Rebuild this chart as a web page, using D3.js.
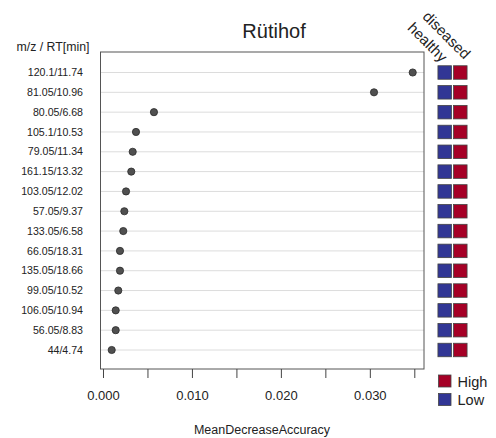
<!DOCTYPE html>
<html><head><meta charset="utf-8">
<script src="https://cdn.jsdelivr.net/npm/d3@7"></script>
<style>body{margin:0;background:#fff}svg{display:block}text{font-family:"Liberation Sans",Arial,sans-serif;fill:#222}</style>
</head><body>
<svg id="c" width="496" height="438"></svg>
<script>
const features = ["120.1/11.74","81.05/10.96","80.05/6.68","105.1/10.53","79.05/11.34","161.15/13.32","103.05/12.02","57.05/9.37","133.05/6.58","66.05/18.31","135.05/18.66","99.05/10.52","106.05/10.94","56.05/8.83","44/4.74"];
const importance = [0.03482,0.03047,0.00573,0.00371,0.00334,0.00318,0.00259,0.0024,0.00228,0.00191,0.00191,0.00172,0.00143,0.00143,0.00098];
// group level per feature: healthy, diseased
const healthyLevel = ["Low","Low","Low","Low","Low","Low","Low","Low","Low","Low","Low","Low","Low","Low","Low"];
const diseasedLevel = ["High","High","High","High","High","High","High","High","High","High","High","High","High","High","High"];
const groups = ["healthy","diseased"];
const levels = ["High","Low"];
const tickValues = [0,0.005,0.010,0.015,0.020,0.025,0.030,0.035];
const tickLabels = ["0.000","","0.010","","0.020","","0.030",""];
const title = "Rütihof";
const xTitle = "MeanDecreaseAccuracy";
const yTitle = "m/z / RT[min]";

const color = d3.scaleOrdinal().domain(levels).range(["#a50026","#313695"]);
const svg = d3.select("#c");
const box = {l:100.5, r:424, t:52, b:369};
const x = d3.scaleLinear().domain([-0.00028,0.03609]).range([box.l, box.r]);
const y = d3.scalePoint().domain(features).range([72.5, 350]);

svg.append("text").attr("x",274).attr("y",38).attr("text-anchor","middle").attr("font-size",20).text(title);
svg.append("text").attr("x",53).attr("y",51).attr("text-anchor","middle").attr("font-size",12.3).text(yTitle);

// grid
svg.append("g").selectAll("line").data(features).join("line")
  .attr("x1",box.l).attr("x2",box.r).attr("y1",d=>y(d)).attr("y2",d=>y(d))
  .attr("stroke","#dcdcdc").attr("stroke-width",1);
svg.append("rect").attr("x",box.l).attr("y",box.t).attr("width",box.r-box.l).attr("height",box.b-box.t)
  .attr("fill","none").attr("stroke","#555").attr("stroke-width",1);

// labels
svg.append("g").selectAll("text").data(features).join("text")
  .attr("x",83).attr("y",d=>y(d)).attr("dy","0.35em").attr("text-anchor","end").attr("font-size",10.6).text(d=>d);

// dots
svg.append("g").selectAll("circle").data(features).join("circle")
  .attr("cx",(d,i)=>x(importance[i])).attr("cy",d=>y(d)).attr("r",3.6)
  .attr("fill","#505050").attr("stroke","#2a2a2a").attr("stroke-width",0.8);

// axis
const ax = svg.append("g").attr("transform",`translate(0,${box.b})`)
  .call(d3.axisBottom(x).tickValues(tickValues).tickFormat((d,i)=>tickLabels[i]).tickSizeOuter(0).tickSizeInner(9).tickPadding(13));
ax.select(".domain").remove();
ax.selectAll(".tick line").attr("stroke","#444");
ax.selectAll(".tick text").attr("font-size",13).attr("fill","#222").style("font-family","Liberation Sans, Arial, sans-serif");
svg.append("text").attr("x",262).attr("y",434).attr("text-anchor","middle").attr("font-size",12.5).text(xTitle);

// heat squares
const gx = d3.scaleBand().domain(groups).range([437.5,467.5]).paddingInner(0.08);
const sq = 13.5;
const cells = [];
features.forEach((f,i)=>{cells.push({f,g:"healthy",v:healthyLevel[i]});cells.push({f,g:"diseased",v:diseasedLevel[i]});});
svg.append("g").selectAll("rect").data(cells).join("rect")
  .attr("x",d=>gx(d.g)+gx.bandwidth()/2-sq/2).attr("y",d=>y(d.f)-sq/2).attr("width",sq).attr("height",sq)
  .attr("fill",d=>color(d.v)).attr("stroke","#444").attr("stroke-width",0.8);

// column headers rotated
const hdrOff = {healthy:[-3.7,2], diseased:[3.8,-1]};
svg.append("g").selectAll("text").data(groups).join("text")
  .attr("transform",d=>`translate(${gx(d)+gx.bandwidth()/2+hdrOff[d][0]},${61+hdrOff[d][1]}) rotate(45)`)
  .attr("text-anchor","end").attr("font-size",15).text(d=>d);

// legend
const lg = svg.append("g").selectAll("g").data(levels).join("g")
  .attr("transform",(d,i)=>`translate(438.5,${375+i*18.5})`);
lg.append("rect").attr("width",12.5).attr("height",12).attr("fill",d=>color(d)).attr("stroke","#444").attr("stroke-width",0.8);
lg.append("text").attr("x",19).attr("y",11.5).attr("font-size",14.5).text(d=>d);
</script>
</body></html>
